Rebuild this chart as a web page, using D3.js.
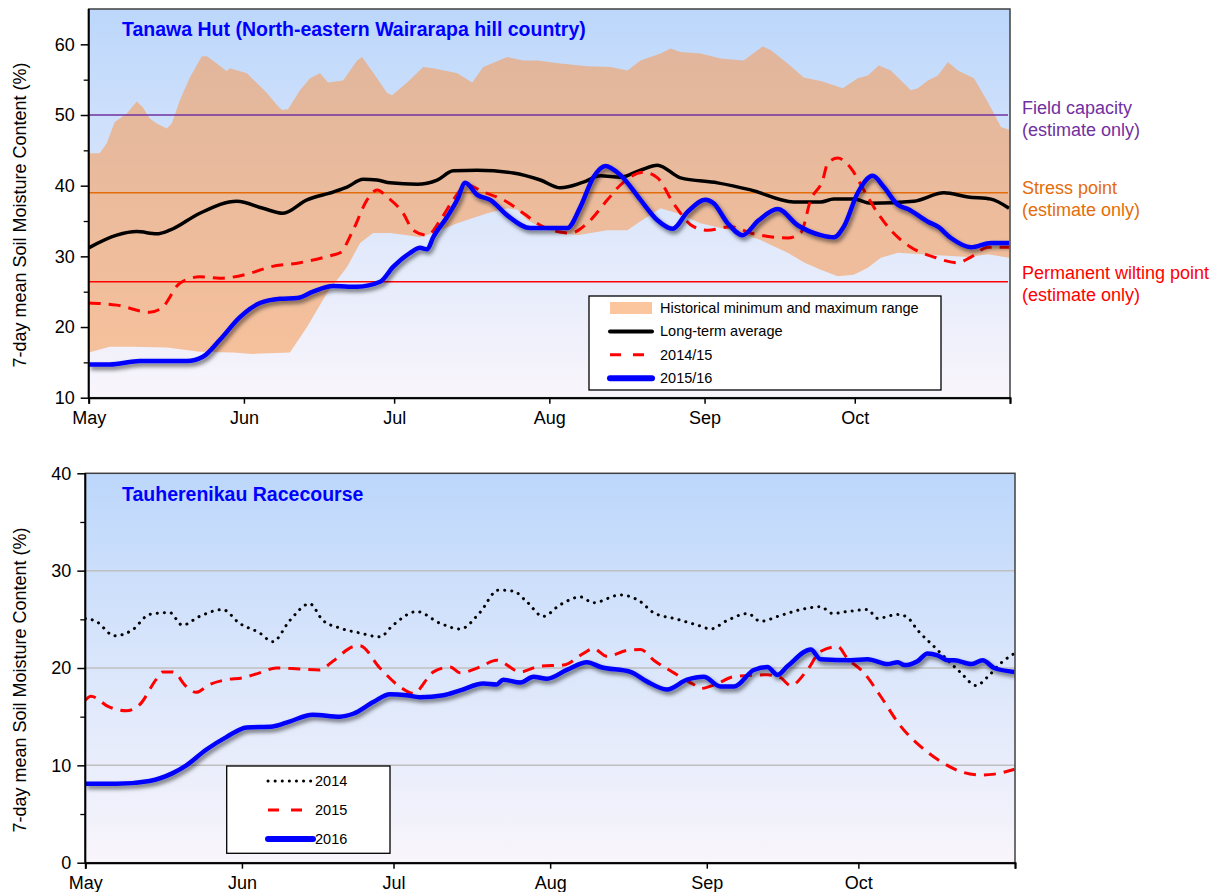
<!DOCTYPE html>
<html>
<head>
<meta charset="utf-8">
<script src="https://cdn.jsdelivr.net/npm/d3@7"></script>
<style>
  body { margin: 0; background: #fff; }
  svg text { font-family: "Liberation Sans", Arial, sans-serif; }
</style>
</head>
<body>
<svg id="chart" width="1216" height="892"></svg>
<script>
// --- data: [days since 1 May, value %] ---
var monthLabels = ["May", "Jun", "Jul", "Aug", "Sep", "Oct"];

// Tanawa Hut
var histMax = [[0,44.6],[2.2,44.6],[3.6,46.0],[5.2,49.0],[7.6,50.2],[9.6,51.9],[10.8,51.1],[12.2,49.5],[13.6,48.8],[15.6,48.1],[16.6,48.8],[18.2,52.1],[20.2,55.3],[22.6,58.3],[23.6,58.3],[24.8,57.7],[27.6,56.2],[28.2,56.6],[31.6,55.9],[34.2,54.1],[35.6,53.1],[37.6,51.4],[38.6,50.7],[39.8,50.8],[42.2,53.5],[44.2,55.2],[46.2,55.9],[47.8,54.6],[50.8,54.9],[53.6,57.7],[54.6,58.2],[56.8,56.0],[59.6,53.1],[60.6,52.8],[63.6,54.6],[66.8,56.8],[68.8,56.6],[73.6,55.9],[76.6,54.6],[78.8,56.8],[83.6,58.2],[86.8,57.7],[89.6,57.7],[94.2,57.3],[99.6,56.9],[104.2,56.8],[107.6,56.3],[110.2,57.7],[114.2,58.7],[116.2,59.4],[118.2,58.9],[122.2,58.7],[126.2,58.0],[130.8,57.7],[134.6,59.7],[136.2,59.2],[139.6,57.3],[142.8,55.3],[146.2,54.8],[150.6,53.8],[153.6,55.2],[155.6,55.6],[157.8,57.0],[160.2,56.3],[164.2,53.5],[165.6,53.8],[167.6,54.9],[169.6,55.6],[171.6,57.5],[173.6,56.3],[176.8,55.2],[179.6,51.8],[182.2,48.3],[183.8,47.9]];
var histMin = [[0,16.4],[4.2,17.2],[8.8,17.2],[15.6,17.1],[22.2,16.5],[28.8,16.4],[32.8,16.2],[40.2,16.4],[43.6,20.0],[47.6,24.8],[51.6,28.5],[54.2,31.9],[56.8,33.3],[60.2,33.3],[63.6,33.0],[66.2,32.7],[68.8,33.3],[73.6,34.7],[79.6,36.1],[83.6,36.8],[85.6,36.6],[87.6,35.1],[91.6,33.7],[97.6,33.0],[103.6,33.7],[107.6,33.7],[109.6,34.7],[114.2,36.8],[117.6,36.1],[122.2,34.7],[128.2,33.7],[134.2,32.3],[139.6,30.5],[143.0,29.1],[146.2,28.1],[149.6,27.2],[152.8,27.4],[155.6,28.4],[158.2,29.8],[161.6,30.5],[168.8,30.2],[175.6,29.9],[179.6,30.3],[183.8,29.8]];
var longTermAvg = [[0,31.2],[5.6,33.0],[9.6,33.5],[13.6,33.2],[16.2,33.7],[22.2,36.1],[29.6,37.8],[34.8,36.8],[38.8,36.1],[43.6,38.0],[48.8,39.1],[51.6,39.8],[54.8,40.9],[57.6,40.8],[60.2,40.4],[65.6,40.2],[69.6,40.8],[72.8,42.1],[77.6,42.2],[84.8,41.8],[90.2,40.8],[94.2,39.7],[98.8,40.5],[102.2,41.4],[106.2,41.2],[110.2,42.2],[113.6,42.9],[118.2,41.1],[125.6,40.4],[132.2,39.4],[140.8,37.7],[146.2,37.7],[148.8,38.1],[152.8,38.1],[156.2,37.5],[164.8,37.8],[170.8,39.0],[175.6,38.4],[180.2,38.1],[183.8,36.8]];
var tanawa1415 = [[0,23.4],[5.6,23.1],[12.2,22.1],[14.6,22.7],[18.2,26.2],[22.2,27.1],[26.2,26.9],[32.2,27.6],[36.2,28.5],[42.2,29.1],[48.8,30.2],[50.2,30.5],[52.8,33.7],[55.6,38.0],[57.6,39.4],[59.6,38.4],[62.8,36.1],[64.8,33.7],[67.6,33.0],[70.2,35.1],[72.8,38.0],[75.6,40.1],[78.8,39.1],[82.8,38.0],[86.8,36.1],[90.2,34.4],[96.2,33.3],[99.6,34.7],[103.6,38.0],[106.2,40.1],[110.8,41.9],[113.6,41.1],[116.8,37.5],[120.8,34.2],[123.6,33.7],[128.2,34.2],[132.2,33.3],[139.6,32.6],[142.2,33.3],[144.2,38.0],[146.6,40.8],[147.6,43.2],[149.6,43.9],[152.2,42.5],[154.8,39.4],[157.6,36.1],[160.2,33.7],[164.2,31.3],[168.8,29.9],[173.6,29.1],[176.2,29.9],[179.6,31.3],[183.8,31.3]];
var tanawa1516 = [[0,14.7],[4.2,14.7],[10.2,15.2],[19.6,15.2],[22.8,15.8],[26.2,18.2],[30.2,21.4],[34.2,23.4],[38.2,24.0],[41.6,24.1],[44.8,25.0],[48.8,25.8],[53.6,25.7],[58.2,26.4],[60.8,28.5],[64.2,30.5],[66.2,31.2],[67.6,31.0],[68.8,32.7],[71.6,35.6],[73.6,38.0],[75.2,40.4],[77.6,38.7],[80.2,38.0],[83.6,35.8],[88.2,34.0],[90.8,34.0],[95.6,34.0],[98.2,37.0],[100.8,41.2],[103.2,42.8],[106.2,41.5],[110.2,38.0],[113.6,35.1],[116.6,33.9],[119.6,36.3],[123.2,38.0],[124.8,37.5],[127.6,34.7],[130.6,33.0],[133.8,35.1],[137.6,36.7],[141.6,34.4],[146.2,33.0],[148.8,32.7],[150.8,34.2],[153.6,39.0],[156.6,41.4],[158.8,39.8],[161.6,37.3],[163.6,36.7],[167.6,34.9],[169.6,34.2],[172.2,32.6],[176.2,31.3],[180.2,31.9],[183.8,31.9]];
var refLevels = [
  {name: "Field capacity", value: 50, color: "#7030a0"},
  {name: "Stress point", value: 39, color: "#e46c0a"},
  {name: "Permanent wilting point", value: 26.4, color: "#ff0000"}
];

// Tauherenikau Racecourse
var tauh2014 = [[0,25.1],[2.1,24.8],[5.8,23.3],[9.3,23.9],[12.7,25.5],[16.7,25.7],[19.2,24.4],[22.6,25.3],[27.2,26.0],[30.5,24.6],[34.5,23.6],[37.1,22.7],[40.5,24.9],[44.4,26.6],[47.0,24.9],[50.4,24.1],[54.3,23.6],[58.3,23.2],[60.9,24.4],[65.6,25.8],[70.2,24.6],[74.2,24.0],[78.1,25.7],[81.7,28.0],[84.7,27.9],[87.4,26.8],[90.6,25.3],[94.0,26.5],[98.0,27.3],[100.5,26.7],[105.9,27.5],[109.9,26.8],[112.4,25.7],[117.2,25.0],[121.8,24.3],[123.7,24.0],[127.1,24.9],[131.1,25.6],[133.6,24.8],[137.6,25.4],[141.6,26.0],[145.5,26.3],[147.9,25.6],[150.8,25.8],[154.8,26.0],[156.8,25.1],[160.8,25.5],[162.7,25.2],[164.7,23.9],[168.0,22.2],[170.7,20.8],[173.3,19.5],[176.3,18.2],[178.6,19.1],[181.2,20.5],[183.9,21.5]];
var tauh2015 = [[0,16.7],[1.1,17.1],[4.7,16.0],[8.1,15.6],[10.7,16.2],[14.0,18.8],[15.3,19.6],[17.3,19.6],[20.0,18.1],[21.9,17.5],[24.6,18.3],[27.9,18.8],[31.2,19.0],[34.5,19.5],[37.8,20.0],[42.4,19.9],[46.4,19.8],[49.0,20.7],[53.0,22.2],[54.3,22.3],[58.3,20.0],[62.2,18.1],[64.9,17.4],[68.9,19.6],[72.2,20.1],[74.2,19.5],[78.1,20.1],[81.4,20.8],[86.1,19.6],[90.0,20.2],[94.6,20.3],[98.6,21.5],[100.6,22.0],[103.2,21.2],[107.2,21.8],[109.9,21.9],[112.5,20.8],[116.5,19.5],[120.4,18.3],[121.8,17.9],[125.1,18.4],[128.3,19.1],[135.0,19.3],[137.6,19.0],[139.6,18.2],[142.9,19.8],[145.5,21.7],[148.9,22.2],[150.8,21.0],[154.1,19.5],[157.4,17.1],[161.4,14.0],[165.4,11.9],[168.7,10.6],[173.3,9.35],[177.3,9.0],[179.9,9.1],[183.9,9.6]];
var tauh2016 = [[0,8.1],[6.1,8.1],[12.7,8.4],[17.3,9.2],[20.0,10.0],[23.9,11.6],[27.9,12.9],[31.9,13.9],[37.1,14.0],[40.4,14.5],[45.0,15.2],[50.4,15.0],[53.0,15.3],[57.0,16.5],[60.3,17.3],[63.6,17.2],[66.2,17.0],[70.9,17.2],[74.2,17.7],[78.8,18.4],[81.4,18.3],[82.7,18.8],[86.1,18.5],[88.7,19.1],[91.4,18.9],[95.3,19.8],[99.3,20.6],[102.0,20.1],[107.9,19.6],[111.2,18.6],[115.1,17.8],[119.1,18.8],[122.4,19.1],[125.7,18.1],[128.4,18.1],[132.3,19.8],[135.0,20.1],[137.0,19.3],[139.0,20.2],[143.6,21.9],[145.5,20.9],[151.5,20.8],[154.8,20.9],[158.8,20.4],[160.8,20.6],[162.1,20.3],[164.7,20.7],[166.7,21.5],[168.7,21.3],[170.7,20.8],[172.0,20.8],[175.3,20.4],[177.6,20.8],[179.9,20.0],[183.9,19.6]];

var START = Date.UTC(2015, 4, 1);
function toDate(d) { return new Date(START + d * 864e5); }

var svg = d3.select("#chart");
var defs = svg.append("defs");

var grad = defs.append("linearGradient").attr("id", "bg").attr("x1", 0).attr("y1", 0).attr("x2", 0).attr("y2", 1);
grad.append("stop").attr("offset", "0%").attr("stop-color", "#bcd7fb");
grad.append("stop").attr("offset", "100%").attr("stop-color", "#f9f5fb");

defs.append("filter").attr("id", "shadow").attr("x", "-5%").attr("y", "-20%").attr("width", "110%").attr("height", "140%")
  .append("feDropShadow").attr("dx", 2).attr("dy", 3).attr("stdDeviation", 2)
  .attr("flood-color", "#000").attr("flood-opacity", 0.55);

function drawPanel(p) {
  var x = d3.scaleUtc().domain([toDate(0), toDate(184)]).range([p.left, p.right]);
  var y = d3.scaleLinear().domain(p.yDomain).range([p.bottom, p.top]);
  var g = svg.append("g");

  g.append("rect").attr("x", p.left).attr("y", p.top)
    .attr("width", p.right - p.left).attr("height", p.bottom - p.top)
    .attr("fill", "url(#bg)");

  defs.append("clipPath").attr("id", p.id + "-clip").append("rect")
    .attr("x", p.left).attr("y", p.top).attr("width", p.right - p.left).attr("height", p.bottom - p.top);

  var plot = g.append("g").attr("clip-path", "url(#" + p.id + "-clip)");

  // gridlines
  if (p.grid) {
    plot.selectAll(".grid").data(p.grid).enter().append("line")
      .attr("x1", p.left).attr("x2", p.right)
      .attr("y1", function(d) { return y(d); }).attr("y2", function(d) { return y(d); })
      .attr("stroke", "#bfbfbf").attr("stroke-width", 1.5);
  }

  // historical band
  if (p.band) {
    var bandPts = p.band.max.concat(p.band.min.slice().reverse());
    plot.append("path")
      .attr("d", d3.line().x(function(d) { return x(toDate(d[0])); }).y(function(d) { return y(d[1]); })(bandPts) + "Z")
      .attr("fill", "rgb(248,155,84)").attr("fill-opacity", 0.57);
  }

  // reference lines
  if (p.refs) {
    p.refs.forEach(function(r) {
      plot.append("line").attr("x1", p.left).attr("x2", p.right - 2)
        .attr("y1", y(r.value)).attr("y2", y(r.value))
        .attr("stroke", r.color).attr("stroke-width", 1.5);
    });
  }

  p.series.forEach(function(s) {
    var line = d3.line().curve(d3.curveMonotoneX)
      .x(function(d) { return x(toDate(d[0])); }).y(function(d) { return y(d[1]); });
    plot.append("path").attr("d", line(s.data))
      .attr("fill", "none").attr("stroke", s.color).attr("stroke-width", s.width)
      .attr("stroke-dasharray", s.dash || null)
      .attr("stroke-linecap", s.cap || "butt").attr("stroke-linejoin", "round")
      .attr("filter", s.shadow ? "url(#shadow)" : null);
  });

  // frame
  g.append("rect").attr("x", p.left).attr("y", p.top)
    .attr("width", p.right - p.left).attr("height", p.bottom - p.top)
    .attr("fill", "none").attr("stroke", "#404040").attr("stroke-width", 1.5);

  // axes
  var yMajor = d3.range(p.yDomain[0], p.yDomain[1] + 0.01, 10).filter(function(v) { return v <= p.yMax; });
  var yMinor = d3.range(p.yDomain[0] + 5, p.yMax, 10);
  g.append("g").attr("transform", "translate(" + p.left + ",0)")
    .call(d3.axisLeft(y).tickValues(yMinor).tickSize(5).tickFormat(""))
    .call(function(a) { a.select(".domain").remove(); a.selectAll("line").attr("stroke", "#000").attr("stroke-width", 1.3); });
  var ya = g.append("g").attr("transform", "translate(" + p.left + ",0)")
    .call(d3.axisLeft(y).tickValues(yMajor).tickSize(8).tickPadding(6));
  ya.select(".domain").attr("stroke", "#000").attr("stroke-width", 2).attr("d", "M0," + p.bottom + "V" + p.top);
  ya.selectAll("line").attr("stroke", "#000").attr("stroke-width", 1.5);
  ya.selectAll("text").attr("font-size", 18).attr("fill", "#000");

  var xa = g.append("g").attr("transform", "translate(0," + p.bottom + ")")
    .call(d3.axisBottom(x).ticks(d3.utcMonth.every(1)).tickSize(6).tickPadding(8)
      .tickFormat(function(d, i) { return monthLabels[i] || ""; }));
  xa.select(".domain").attr("stroke", "#000").attr("stroke-width", 2);
  xa.selectAll("line").attr("stroke", "#000").attr("stroke-width", 1.5);
  xa.selectAll("text").attr("font-size", 18).attr("fill", "#000");

  // y title
  g.append("text")
    .attr("transform", "translate(" + p.yTitleX + "," + p.yTitleY + ") rotate(-90)")
    .attr("text-anchor", "middle").attr("font-size", 18).attr("fill", "#000")
    .text("7-day mean Soil Moisture Content (%)");

  // panel title
  g.append("text").attr("x", p.titleX).attr("y", p.titleY)
    .attr("font-size", 19.5).attr("font-weight", "bold").attr("fill", "#0000ff")
    .text(p.title);

  // reference labels on the right
  if (p.refs) {
    p.refs.forEach(function(r, i) {
      var t = g.append("text").attr("x", p.right + 12).attr("font-size", 18).attr("fill", r.color);
      var yy = [108, 188, 273][i];
      t.append("tspan").attr("x", p.right + 12).attr("y", yy + 6).text(r.name);
      t.append("tspan").attr("x", p.right + 12).attr("y", yy + 28).text("(estimate only)");
    });
  }

  // legend
  var L = p.legend;
  var lg = g.append("g");
  lg.append("rect").attr("x", L.x).attr("y", L.y).attr("width", L.w).attr("height", L.h)
    .attr("fill", "#fff").attr("stroke", "#000").attr("stroke-width", 1.3);
  L.items.forEach(function(it, i) {
    var cy = L.y + L.first + i * L.step;
    if (it.swatch) {
      lg.append("rect").attr("x", L.sx0).attr("y", cy - 6).attr("width", L.sx1 - L.sx0).attr("height", 12)
        .attr("fill", "rgb(248,155,84)").attr("fill-opacity", 0.57);
    } else {
      lg.append("line").attr("x1", L.sx0).attr("x2", L.sx1).attr("y1", cy).attr("y2", cy)
        .attr("stroke", it.color).attr("stroke-width", it.width)
        .attr("stroke-dasharray", it.dash || null).attr("stroke-linecap", it.cap || "butt");
    }
    lg.append("text").attr("x", L.tx).attr("y", cy + 5).attr("font-size", 14.5).attr("fill", "#000").text(it.label);
  });
}

drawPanel({
  id: "tanawa", left: 88.7, right: 1010, top: 9, bottom: 397.7,
  yDomain: [10, 65], yMax: 60, yTitleX: 26, yTitleY: 215,
  title: "Tanawa Hut (North-eastern Wairarapa hill country)", titleX: 122, titleY: 36,
  band: {max: histMax, min: histMin},
  refs: refLevels,
  series: [
    {data: longTermAvg, color: "#000", width: 3.5},
    {data: tanawa1415, color: "#ff0000", width: 3, dash: "12,8"},
    {data: tanawa1516, color: "#0000ff", width: 4.5, shadow: true}
  ],
  legend: {x: 589, y: 296, w: 352, h: 94, first: 12, step: 23.4, sx0: 610, sx1: 652, tx: 660,
    items: [
      {label: "Historical minimum and maximum range", swatch: true},
      {label: "Long-term average", color: "#000", width: 4, cap: "round"},
      {label: "2014/15", color: "#ff0000", width: 3, dash: "11,12"},
      {label: "2015/16", color: "#0000ff", width: 6, cap: "round"}
    ]}
});

drawPanel({
  id: "tauh", left: 85.3, right: 1015, top: 473.3, bottom: 862.7,
  yDomain: [0, 40], yMax: 40, yTitleX: 26, yTitleY: 680, grid: [10, 20, 30],
  title: "Tauherenikau Racecourse", titleX: 122, titleY: 501,
  series: [
    {data: tauh2014, color: "#000", width: 3, dash: "0.1,7", cap: "round"},
    {data: tauh2015, color: "#ff0000", width: 3, dash: "12,8"},
    {data: tauh2016, color: "#0000ff", width: 4.5, shadow: true}
  ],
  legend: {x: 226.7, y: 766, w: 163.3, h: 87.3, first: 15, step: 29, sx0: 268, sx1: 313, tx: 315,
    items: [
      {label: "2014", color: "#000", width: 3, dash: "0.1,7", cap: "round"},
      {label: "2015", color: "#ff0000", width: 3, dash: "11,12"},
      {label: "2016", color: "#0000ff", width: 6, cap: "round"}
    ]}
});
</script>
</body>
</html>
